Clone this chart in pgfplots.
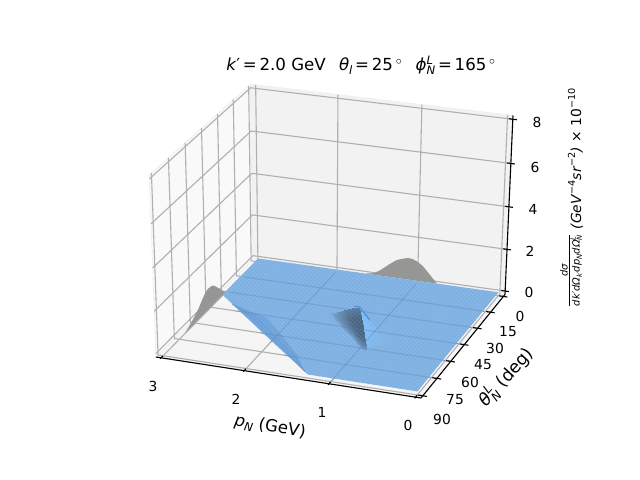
\documentclass[border=0pt]{standalone}
\usepackage{fontspec}
\setmainfont{DejaVu Sans}
\usepackage{graphicx}
\usepackage{pgfplots}
\usepackage{pgfplotstable}
\usetikzlibrary{patterns}
\pgfplotsset{compat=1.18}
\newcommand{\SSB}[2]{\makebox[0pt][l]{\raisebox{.75ex}{\scalebox{.7}{\itshape #1}}}\raisebox{-.4ex}{\scalebox{.7}{\itshape #2}}}
\newcommand{\SUP}[1]{\raisebox{.8ex}{\scalebox{.7}{#1}}}
\newcommand{\SUB}[1]{\raisebox{-.4ex}{\scalebox{.7}{\itshape #1}}}
\newcommand{\PL}[2]{\addplot3[#1] table[proj]{p t z\\ #2};}
\pgfplotsset{/pgfplots/table/proj/.style={row sep=\\,
  x expr={PX(\thisrow{p},\thisrow{t},\thisrow{z})},
  y expr={480-PY(\thisrow{p},\thisrow{t},\thisrow{z})}, z expr=0}}
% surface near the peak: p, theta, sigma, shade
\pgfplotstableread[row sep=\\]{
p t z s\\
1.62 38 0 -.15\\ 1.505 41 .28 -.42\\ 1.39 43.5 .55 -.6\\ 1.26 46 .85 -.67\\ 1.14 48.7 1.1 -.67\\ 1.14 48.7 1.1 .67\\ 1.045 49.9 .8 .67\\ .97 51.15 .55 .56\\ .875 52.4 .27 .38\\ .78 53.6 0 .05\\
1.47 43.6 0 -.25\\ 1.378 46 .21 -.6\\ 1.286 48 .41 -.85\\ 1.18 50 .64 -.95\\ 1.072 52.16 .825 -.95\\ 1.072 52.16 .825 .95\\ 1.0 53.12 .6 .95\\ .95 54.12 .41 .8\\ .874 55.12 .2 .55\\ .798 56.08 0 .1\\
1.32 49.2 0 -.25\\ 1.251 51 .146 -.6\\ 1.182 52.5 .286 -.85\\ 1.10 54 .442 -1\\ 1.014 55.62 .572 -1\\ 1.014 55.62 .572 .95\\ .957 56.34 .416 .95\\ .93 57.09 .286 .8\\ .873 57.84 .14 .55\\ .816 58.56 0 .1\\
1.17 54.8 0 -.22\\ 1.124 56 .09 -.55\\ 1.078 57 .176 -.8\\ 1.02 58 .272 -.95\\ .956 59.08 .352 -.95\\ .956 59.08 .352 .9\\ .925 59.56 .256 .9\\ .905 60.06 .176 .75\\ .872 60.56 .086 .5\\ .834 61.04 0 .08\\
1.02 60.4 0 -.15\\ .997 61 .04 -.38\\ .974 61.5 .077 -.55\\ .94 62 .119 -.65\\ .898 62.54 .154 -.65\\ .898 62.54 .154 .6\\ .893 62.78 .112 .6\\ .885 63.03 .077 .5\\ .871 63.28 .038 .33\\ .852 63.52 0 .05\\
.87 66 0 0\\ .87 66 0 0\\ .87 66 0 0\\ .87 66 0 0\\ .87 66 0 0\\ .87 66 0 0\\ .87 66 0 0\\ .87 66 0 0\\ .87 66 0 0\\ .87 66 0 0\\
}\peakdata
\definecolor{blueflat}{RGB}{133,181,228}
\definecolor{bluedots}{RGB}{118,168,220}
\definecolor{bluegrid}{RGB}{108,156,206}
\definecolor{bluegridd}{RGB}{85,130,185}
\definecolor{bluelens}{RGB}{112,166,220}
\definecolor{bluetop}{RGB}{86,150,220}
\definecolor{darkdots}{RGB}{50,72,95}
\definecolor{bumpgray}{RGB}{150,150,148}
\definecolor{gridc}{RGB}{176,176,176}
\begin{document}
\begin{tikzpicture}
\path[use as bounding box] (0,0) rectangle (6.4in,4.8in);
\begin{axis}[at={(0,0)},anchor=south west,scale only axis,width=6.4in,height=4.8in,
  xmin=0,xmax=640,ymin=0,ymax=480,zmin=-1,zmax=1,view={0}{90},hide axis,clip=false,
  point meta min=-1,point meta max=1,
  colormap={fb}{rgb255(0cm)=(78,106,134); rgb255(1cm)=(133,181,228); rgb255(2cm)=(130,190,245)},
  declare function={
    UU(\p)=(\p+0.0625)/3.125;
    VV(\t)=(\t+1.875)/93.75;
    HH(\z)=(\z+0.16667)/8.33333;
    WW(\p,\t,\z)=1+0.03087*UU(\p)-0.06036*VV(\t)-0.04*HH(\z);
    PX(\p,\t,\z)=(505-244.19*UU(\p)-109.41*VV(\t)-12.52*HH(\z))/WW(\p,\t,\z);
    PY(\p,\t,\z)=(294.5-27.5*UU(\p)+79.48*VV(\t)-183.62*HH(\z))/WW(\p,\t,\z);
  }]
% panes
\PL{fill=black!5,draw=black!6,line width=.6pt}{-.0625 -1.875 8.1667\\ 3.0625 -1.875 8.1667\\ 3.0625 -1.875 -.1667\\ -.0625 -1.875 -.1667\\ -.0625 -1.875 8.1667\\}
\PL{fill=black!2.5,draw=black!6,line width=.6pt}{3.0625 -1.875 8.1667\\ 3.0625 91.875 8.1667\\ 3.0625 91.875 -.1667\\ 3.0625 -1.875 -.1667\\ 3.0625 -1.875 8.1667\\}
\PL{fill=black!3.75,draw=black!6,line width=.6pt}{-.0625 -1.875 -.1667\\ 3.0625 -1.875 -.1667\\ 3.0625 91.875 -.1667\\ -.0625 91.875 -.1667\\ -.0625 -1.875 -.1667\\}
% grid lines: p
\PL{gridc,line width=.8pt}{0 91.875 -.1667\\ 0 -1.875 -.1667\\ 0 -1.875 8.1667\\}
\PL{gridc,line width=.8pt}{1 91.875 -.1667\\ 1 -1.875 -.1667\\ 1 -1.875 8.1667\\}
\PL{gridc,line width=.8pt}{2 91.875 -.1667\\ 2 -1.875 -.1667\\ 2 -1.875 8.1667\\}
\PL{gridc,line width=.8pt}{3 91.875 -.1667\\ 3 -1.875 -.1667\\ 3 -1.875 8.1667\\}
% grid lines: theta
\PL{gridc,line width=.8pt}{-.0625 0 -.1667\\ 3.0625 0 -.1667\\ 3.0625 0 8.1667\\}
\PL{gridc,line width=.8pt}{-.0625 15 -.1667\\ 3.0625 15 -.1667\\ 3.0625 15 8.1667\\}
\PL{gridc,line width=.8pt}{-.0625 30 -.1667\\ 3.0625 30 -.1667\\ 3.0625 30 8.1667\\}
\PL{gridc,line width=.8pt}{-.0625 45 -.1667\\ 3.0625 45 -.1667\\ 3.0625 45 8.1667\\}
\PL{gridc,line width=.8pt}{-.0625 60 -.1667\\ 3.0625 60 -.1667\\ 3.0625 60 8.1667\\}
\PL{gridc,line width=.8pt}{-.0625 75 -.1667\\ 3.0625 75 -.1667\\ 3.0625 75 8.1667\\}
\PL{gridc,line width=.8pt}{-.0625 90 -.1667\\ 3.0625 90 -.1667\\ 3.0625 90 8.1667\\}
% grid lines: sigma
\PL{gridc,line width=.8pt}{-.0625 -1.875 0\\ 3.0625 -1.875 0\\ 3.0625 91.875 0\\}
\PL{gridc,line width=.8pt}{-.0625 -1.875 2\\ 3.0625 -1.875 2\\ 3.0625 91.875 2\\}
\PL{gridc,line width=.8pt}{-.0625 -1.875 4\\ 3.0625 -1.875 4\\ 3.0625 91.875 4\\}
\PL{gridc,line width=.8pt}{-.0625 -1.875 6\\ 3.0625 -1.875 6\\ 3.0625 91.875 6\\}
\PL{gridc,line width=.8pt}{-.0625 -1.875 8\\ 3.0625 -1.875 8\\ 3.0625 91.875 8\\}
% axis lines
\PL{black,line width=.8pt}{-.0625 91.875 -.1667\\ 3.0625 91.875 -.1667\\}
\PL{black,line width=.8pt}{-.0625 -1.875 -.1667\\ -.0625 91.875 -.1667\\}
\PL{black,line width=.8pt}{-.0625 -1.875 -.1667\\ -.0625 -1.875 8.1667\\}
% ticks
\PL{black,line width=.8pt}{0 90.3 -.1667\\ 0 92.8 -.1667\\}
\PL{black,line width=.8pt}{1 90.3 -.1667\\ 1 92.8 -.1667\\}
\PL{black,line width=.8pt}{2 90.3 -.1667\\ 2 92.8 -.1667\\}
\PL{black,line width=.8pt}{3 90.3 -.1667\\ 3 92.8 -.1667\\}
\PL{black,line width=.8pt}{-.11 0 -.1667\\ -.01 0 -.1667\\}
\PL{black,line width=.8pt}{-.11 15 -.1667\\ -.01 15 -.1667\\}
\PL{black,line width=.8pt}{-.11 30 -.1667\\ -.01 30 -.1667\\}
\PL{black,line width=.8pt}{-.11 45 -.1667\\ -.01 45 -.1667\\}
\PL{black,line width=.8pt}{-.11 60 -.1667\\ -.01 60 -.1667\\}
\PL{black,line width=.8pt}{-.11 75 -.1667\\ -.01 75 -.1667\\}
\PL{black,line width=.8pt}{-.11 90 -.1667\\ -.01 90 -.1667\\}
\PL{black,line width=.8pt}{-.11 -1.875 0\\ -.016 -1.875 0\\}
\PL{black,line width=.8pt}{-.11 -1.875 2\\ -.016 -1.875 2\\}
\PL{black,line width=.8pt}{-.11 -1.875 4\\ -.016 -1.875 4\\}
\PL{black,line width=.8pt}{-.11 -1.875 6\\ -.016 -1.875 6\\}
\PL{black,line width=.8pt}{-.11 -1.875 8\\ -.016 -1.875 8\\}
% grey surface, seen as two bumps
\PL{fill=bumpgray,draw=none}{1.62 0 0\\ 1.52 0 .08\\ 1.443 0 .26\\ 1.32 0 .65\\ 1.24 0 .87\\ 1.172 0 .97\\ 1.11 0 1.04\\ 1.049 0 1.03\\ .99 0 .93\\ .926 0 .77\\ .828 0 .36\\ .743 0 0\\ 1.62 0 0\\}
\PL{fill=bumpgray,draw=none}{2.97 33 0\\ 2.97 36 .2\\ 2.97 40.5 .58\\ 2.97 44 .85\\ 2.97 46.4 .95\\ 2.97 50.2 .98\\ 2.97 53 .87\\ 2.97 55 .76\\ 2.97 59.8 .44\\ 2.97 65.5 .2\\ 2.97 68.5 .1\\ 2.97 72 0\\ 2.97 33 0\\}
% blue surface, flat part
\PL{fill=blueflat,draw=none}{0 0 0\\ 2.97 0 0\\ 2.97 36 0\\ 1.27 90 0\\ 0 90 0\\ 0 0 0\\}
\PL{pattern=crosshatch dots,pattern color=bluedots,draw=none}{0 0 0\\ 2.97 0 0\\ 2.97 36 0\\ 1.27 90 0\\ 0 90 0\\ 0 0 0\\}
% sliver along the kinematic edge
\PL{fill=bluelens,draw=none}{2.77 42.4 0\\ 2.246 49.9 0\\ 1.886 63.4 0\\ 1.565 76.1 0\\ 1.33 88 0\\ 1.71 76 0\\ 2.11 63.4 0\\ 2.53 50 0\\ 2.77 42.4 0\\}
\PL{bluegrid,line width=.4pt}{2.77 42.4 0\\ 2.38 49.9 0\\ 2.0 63.4 0\\ 1.61 76.1 0\\ 1.33 88 0\\}
\PL{bluegrid,line width=.4pt}{2.77 42.4 0\\ 2.45 49.9 0\\ 2.05 63.4 0\\ 1.66 76.1 0\\ 1.33 88 0\\}
% peak of the blue surface
\addplot3[surf,shader=interp,mesh/rows=6,mesh/cols=10,point meta=explicit]
  table[x expr={PX(\thisrow{p},\thisrow{t},\thisrow{z})},
        y expr={480-PY(\thisrow{p},\thisrow{t},\thisrow{z})},z expr=0,meta=s]{\peakdata};
\PL{pattern=crosshatch dots,pattern color=darkdots,opacity=.55,draw=none}{1.39 43.5 .55\\ 1.14 48.7 1.1\\ 1.072 52.16 .825\\ .898 62.54 .154\\ 1.078 57 .176\\ 1.39 43.5 .55\\}
\PL{bluetop,line width=1.1pt,line cap=round}{1.21 47.5 1.05\\ 1.14 48.7 1.1\\ 1.045 49.9 .8\\ 1.0 50.5 .67\\}
% floor grid seen through the surface
\PL{bluegridd,opacity=.35,line width=.8pt}{1 90 -.1667\\ 1 0 -.1667\\}
\PL{bluegridd,opacity=.35,line width=.8pt}{2 66.8 -.1667\\ 2 0 -.1667\\}
\PL{bluegridd,opacity=.35,line width=.8pt}{0 15 -.1667\\ 2.97 15 -.1667\\}
\PL{bluegridd,opacity=.35,line width=.8pt}{0 30 -.1667\\ 2.97 30 -.1667\\}
\PL{bluegridd,opacity=.35,line width=.8pt}{0 45 -.1667\\ 2.69 45 -.1667\\}
\PL{bluegridd,opacity=.35,line width=.8pt}{0 60 -.1667\\ 2.21 60 -.1667\\}
\PL{bluegridd,opacity=.35,line width=.8pt}{0 75 -.1667\\ 1.74 75 -.1667\\}
% tick labels
\node at (axis cs:408,55,0) {0};
\node at (axis cs:322,68,0) {1};
\node at (axis cs:236,81,0) {2};
\node at (axis cs:153,94,0) {3};
\node at (axis cs:520,164,0) {0};
\node at (axis cs:508,148,0) {15};
\node at (axis cs:495,132,0) {30};
\node at (axis cs:483,115,0) {45};
\node at (axis cs:470,98,0) {60};
\node at (axis cs:455,80,0) {75};
\node at (axis cs:442,61,0) {90};
\node at (axis cs:537,358,0) {8};
\node at (axis cs:535,313,0) {6};
\node at (axis cs:533,271,0) {4};
\node at (axis cs:530,229,0) {2};
\node at (axis cs:529,188,0) {0};
% axis labels and title
\node[rotate=-10,font=\fontsize{12}{14}\selectfont] at (axis cs:270,53,0) {\textit{p}\SUB{N} (GeV)};
\node[rotate=48,font=\fontsize{12.5}{15}\selectfont] at (axis cs:506,103,0) {\textit{θ}\SSB{L}{N} (deg)};
\node[font=\fontsize{12}{14}\selectfont] at (axis cs:361,415,0) {\textit{k}′\,=\,2.0 GeV\hspace{9.6pt}\textit{θ}\SUB{l}\,=\,25$\,^\circ$\hspace{9.6pt}\textit{ϕ}\SSB{L}{N}\,=\,165$\,^\circ$};
\node[rotate=90] at (axis cs:571.5,282,0) {\raisebox{5.8pt}{$\frac{\mbox{\scalebox{.72}{\itshape dσ}}}{\mbox{\scalebox{.72}{\itshape dk′dΩ\SUB{k′}dp\SUB{N}dΩ\SSB{L}{N}}}}$}\hspace{3pt}\textit{(GeV}\SUP{−4}\textit{sr}\SUP{−2}\textit{)} × 10\SUP{−10}};
\end{axis}
\end{tikzpicture}
\end{document}
